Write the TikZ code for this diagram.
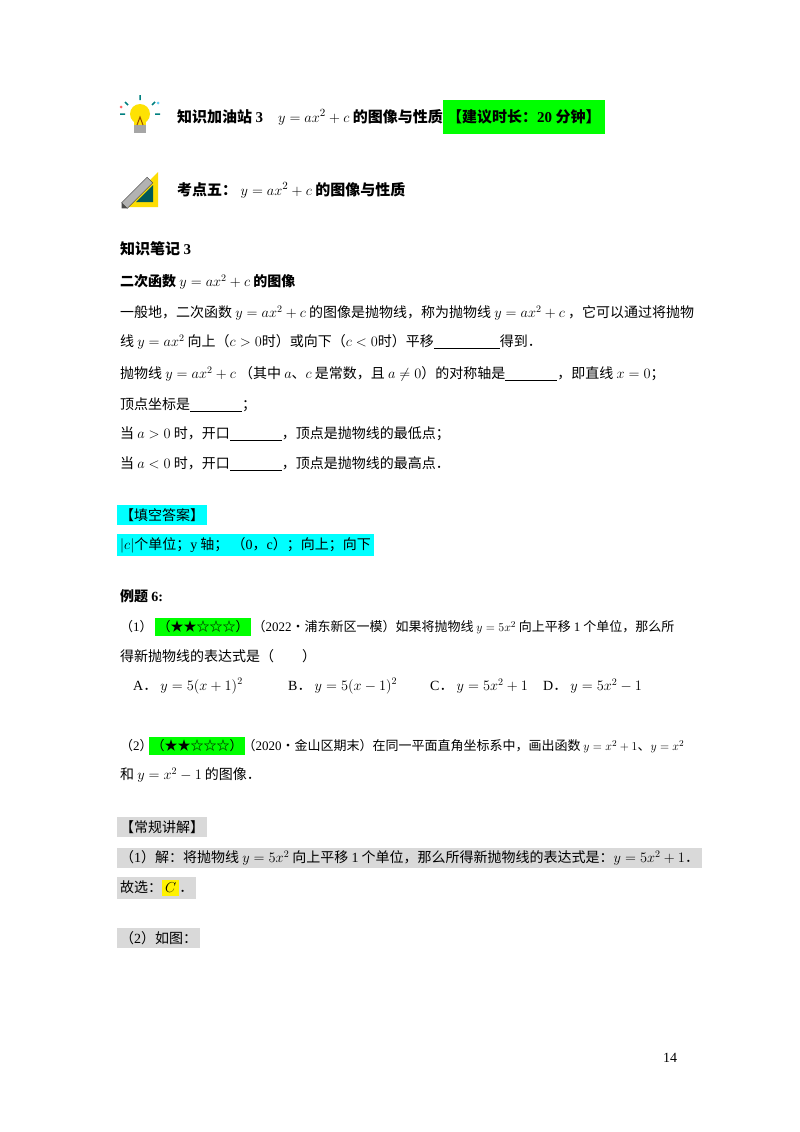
\documentclass[tikz,border=0pt]{standalone}
\usepackage{fontspec}
\setmainfont{Noto Sans CJK SC}
\newfontfamily\tmr{Liberation Serif}
\newcommand\bl[1]{\underline{\hspace{#1}}}
\newcommand\nm[1]{{\tmr #1}}
\definecolor{cy}{RGB}{0,255,255}
\definecolor{gr}{RGB}{0,255,0}
\begin{document}
\begin{tikzpicture}[x=1pt,y=-1pt,
  t/.style={anchor=west,inner sep=0pt,font=\fontsize{14}{16}\selectfont},
  ts/.style={anchor=west,inner sep=0pt,font=\fontsize{13}{15}\selectfont},
  h/.style={t,font=\fontsize{15}{17}\selectfont\bfseries},
  hl/.style={t,inner sep=3pt}]
\useasboundingbox (0,0) rectangle (800,1132);
\fill[white] (0,0) rectangle (800,1132);
% bulb icon
\begin{scope}[shift={(140,117)}]
\fill[yellow!85!orange] (0,-3) circle (10);
\fill[yellow!85!orange] (-6,2) rectangle (6,8);
\fill[gray!70] (-6,8) rectangle (6,16);
\draw[teal,line width=1.5pt] (0,-17)--(0,-22) (-12,-12)--(-15,-15) (12,-12)--(15,-15) (-15,-3)--(-20,-3) (15,-3)--(20,-3);
\draw[orange!60!black,line width=1pt] (-3,8)--(0,0)--(3,8);
\fill[red!60] (-19,-10) circle (1.5); \fill[cyan!60] (18,-14) circle (1.5);
\end{scope}
% pencil icon
\begin{scope}[shift={(140,190)}]
\fill[yellow!80!orange] (-17,17)--(18,17)--(18,-18)--cycle;
\fill[teal!70!black] (-4,12)--(13,12)--(13,-5)--cycle;
\fill[gray!60,rotate=45] (-22,-4) rectangle (14,4);
\draw[gray!40!black,rotate=45] (-22,-4) rectangle (14,4);
\fill[black!70,rotate=45] (-26,0)--(-22,-4)--(-22,4)--cycle;
\end{scope}
\node[h] (t1) at (177,117) {知识加油站 \nm{3}\quad $y=ax^2+c$ 的图像与性质};
\node[h,fill=gr,inner sep=4pt,minimum height=34pt] (t1b) at (t1.east) {【建议时长：\nm{20} 分钟】};
\node[h] (t2) at (177,190) {考点五： $y=ax^2+c$ 的图像与性质};
\node[h] (n3) at (120,249) {知识笔记 \nm{3}};
\node[t,font=\fontsize{14}{16}\selectfont\bfseries] (l0) at (120,282) {二次函数 $y=ax^2+c$ 的图像};
\node[t] (l1) at (120,313) {一般地，二次函数 $y=ax^2+c$ 的图像是抛物线，称为抛物线 $y=ax^2+c$ ，它可以通过将抛物};
\node[t] (l2) at (120,342) {线 $y=ax^2$ 向上（$c>0$时）或向下（$c<0$时）平移\bl{66pt}得到．};
\node[t] (l3) at (120,374) {抛物线 $y=ax^2+c$ （其中 $a$、$c$ 是常数，且 $a\neq0$）的对称轴是\bl{52pt}，即直线 $x=0$；};
\node[t] (l4) at (120,405) {顶点坐标是\bl{52pt}；};
\node[t] (l5) at (120,434) {当 $a>0$ 时，开口\bl{52pt}，顶点是抛物线的最低点；};
\node[t] (l6) at (120,464) {当 $a<0$ 时，开口\bl{52pt}，顶点是抛物线的最高点．};
\node[hl,fill=cy] (a0) at (117,515) {【填空答案】};
\node[hl,fill=cy] (a1) at (117,545) {$|c|$个单位；\nm{y} 轴；\ （\nm{0}，\nm{c}）；向上；向下};
\node[t,font=\fontsize{14}{16}\selectfont\bfseries] (e6) at (120,596) {例题 \nm{6:}};
\node[ts] (q1) at (120,627) {（\nm{1}）};
\node[ts,fill=gr,inner sep=2.5pt] (s1) at ([xshift=2pt]q1.east) {（★★☆☆☆）};
\node[ts] (q1r) at ([xshift=1pt]s1.east) {（\nm{2022}•浦东新区一模）如果将抛物线 $y=5x^2$ 向上平移 \nm{1} 个单位，那么所};
\node[t] (q1b) at (120,656) {得新抛物线的表达式是（\qquad）};
\node[t] (oa) at (133,686) {\nm{A}．\ $y=5(x+1)^2$};
\node[t] (ob) at (288,686) {\nm{B}．\ $y=5(x-1)^2$};
\node[t] (oc) at (430,686) {\nm{C}．\ $y=5x^2+1$};
\node[t] (od) at (543,686) {\nm{D}．\ $y=5x^2-1$};
\node[ts] (q2) at (120,746) {（\nm{2}）};
\node[ts,fill=gr,inner sep=2.5pt] (s2) at ([xshift=-4pt]q2.east) {（★★☆☆☆）};
\node[ts] (q2r) at ([xshift=-3pt]s2.east) {（\nm{2020}•金山区期末）在同一平面直角坐标系中，画出函数 $y=x^2+1$、$y=x^2$};
\node[t] (q2b) at (120,775) {和 $y=x^2-1$ 的图像．};
\node[hl,fill=gray!30] (g0) at (117,827) {【常规讲解】};
\node[hl,fill=gray!30] (g1) at (117,858) {（\nm{1}）解：将抛物线 $y=5x^2$ 向上平移 \nm{1} 个单位，那么所得新抛物线的表达式是：$y=5x^2+1$．};
\node[hl,fill=gray!30] (g2) at (117,888) {故选：\colorbox{yellow}{$C$}．};
\node[hl,fill=gray!30] (g3) at (117,938) {（\nm{2}）如图：};
\node[t] (pg) at (663,1058) {\nm{14}};
\end{tikzpicture}
\end{document}
